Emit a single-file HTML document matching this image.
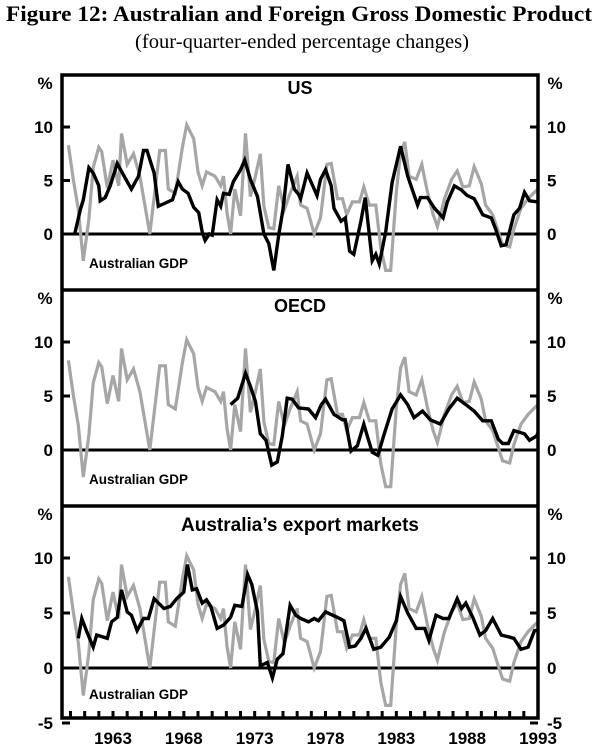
<!DOCTYPE html>
<html><head><meta charset="utf-8"><style>
html,body{margin:0;padding:0;background:#fff;}
svg{display:block;}
</style></head><body>
<svg id="chart" width="600" height="747" xmlns="http://www.w3.org/2000/svg">
<text x="299" y="21" text-anchor="middle" font-family="Liberation Serif, serif" font-weight="bold" font-size="22" textLength="586" lengthAdjust="spacingAndGlyphs">Figure 12: Australian and Foreign Gross Domestic Product</text>
<text x="302" y="48" text-anchor="middle" font-family="Liberation Serif, serif" font-size="20" textLength="334" lengthAdjust="spacingAndGlyphs">(four-quarter-ended percentage changes)</text>
<g id="plots"></g>
</svg>
<script>
const ausYears=[1959.85,1960.2,1960.55,1960.9,1961.3,1961.6,1962.0,1962.2,1962.6,1963.0,1963.4,1963.6,1964.0,1964.45,1964.9,1965.3,1965.6,1966.0,1966.3,1966.7,1966.9,1967.4,1967.9,1968.2,1968.7,1969.0,1969.3,1969.6,1970.2,1970.6,1970.8,1971.05,1971.3,1971.6,1972.0,1972.35,1972.7,1973.05,1973.4,1973.65,1974.0,1974.35,1974.7,1975.1,1975.5,1976.0,1976.24,1976.7,1977.2,1977.65,1978.1,1978.4,1978.85,1979.2,1979.5,1979.9,1980.4,1980.7,1981.1,1981.55,1981.9,1982.25,1982.6,1983.0,1983.3,1983.6,1983.9,1984.4,1984.8,1985.2,1985.6,1985.9,1986.4,1986.9,1987.3,1987.7,1988.15,1988.5,1989.0,1989.3,1989.8,1990.2,1990.5,1991.0,1991.3,1991.8,1992.3,1992.75,1993.0];
const ausValues=[8.3,5.1,2.3,-2.5,1.4,6.2,8.1,7.7,4.3,6.9,4.5,9.4,6.5,7.5,5.4,2.3,0,4.5,7.8,7.8,4.2,3.8,8.1,10.2,8.9,5.8,4.5,5.8,5.4,4.5,5.4,2.0,0,4.2,1.7,9.4,3.5,5.4,7.5,2.6,0.6,0.5,4.5,2.3,3.8,5.4,2.7,2.4,0,1.5,6.5,6.6,3.3,3.3,1.8,3.0,3.0,4.4,2.7,2.7,-1.3,-3.4,-3.4,3.9,7.6,8.6,5.4,5.1,6.5,3.9,1.8,0.7,3.3,5.1,5.9,4.4,4.5,6.3,4.7,2.7,1.8,0.2,-1.0,-1.2,0.5,2.4,3.3,3.9,4.2];
const usYears=[1960.3,1960.7,1960.9,1961.3,1961.6,1962.0,1962.1,1962.45,1962.8,1963.3,1963.75,1964.3,1964.8,1965.15,1965.4,1965.9,1966.2,1966.7,1967.2,1967.6,1967.9,1968.3,1968.7,1969.05,1969.3,1969.5,1969.8,1970.0,1970.35,1970.6,1970.8,1971.2,1971.5,1972.0,1972.3,1972.7,1973.2,1973.65,1974.0,1974.35,1974.7,1975.0,1975.35,1975.8,1976.1,1976.24,1976.7,1977.4,1977.65,1978.0,1978.4,1978.6,1979.1,1979.4,1979.7,1980.0,1980.5,1980.8,1981.3,1981.55,1981.8,1982.25,1982.7,1983.3,1983.8,1984.5,1984.7,1985.2,1985.7,1986.3,1986.6,1987.1,1987.6,1988.0,1988.5,1989.1,1989.7,1990.0,1990.4,1990.75,1991.3,1991.7,1992.05,1992.4,1993.0];
const usValues=[0,2.3,3.2,6.2,5.7,4.5,3.1,3.4,4.5,6.6,5.5,4.2,5.4,7.8,7.8,5.7,2.6,2.9,3.2,4.9,4.2,3.8,2.5,2.0,0.2,-0.6,0,-0.1,3.2,2.6,3.8,3.7,4.9,6.0,6.9,5.1,3.5,0,-0.9,-3.4,-0.1,2.3,6.5,4.2,3.7,3.3,5.7,3.6,5.1,6.0,4.5,2.4,1.2,1.5,-1.6,-1.9,1.2,3.4,-2.5,-1.9,-2.8,0.2,4.8,8.2,5.4,2.7,3.4,3.4,2.4,1.5,3.0,4.5,4.1,3.6,3.3,1.8,1.5,0.5,-1.1,-1.0,1.8,2.4,3.9,3.1,3.0];
const oecdYears=[1971.3,1971.8,1972.35,1972.7,1973.05,1973.4,1973.8,1974.2,1974.6,1974.95,1975.3,1975.65,1976.1,1976.8,1977.3,1977.7,1978.0,1978.6,1979.2,1979.4,1979.8,1980.25,1980.7,1980.95,1981.3,1981.7,1982.1,1982.7,1983.3,1983.8,1984.25,1984.85,1985.4,1986.1,1986.7,1987.3,1988.0,1988.5,1989.1,1989.7,1990.2,1990.5,1990.9,1991.3,1992.05,1992.4,1992.9,1993.0];
const oecdValues=[4.2,4.8,7.1,5.9,4.5,1.5,0.9,-1.4,-1.1,1.3,4.8,4.7,3.9,3.8,3.0,4.2,4.7,3.3,2.8,2.8,-0.1,0.4,2.4,1.3,-0.2,-0.5,1.3,3.8,5.1,4.2,3.0,3.6,2.8,2.4,3.8,4.8,4.1,3.6,2.7,2.7,1.0,0.6,0.6,1.8,1.5,0.9,1.3,1.6];
const expYears=[1960.55,1960.8,1961.15,1961.6,1961.85,1962.6,1962.9,1963.3,1963.6,1964.0,1964.3,1964.7,1965.15,1965.5,1965.9,1966.6,1967.05,1967.5,1968.0,1968.25,1968.6,1968.9,1969.3,1969.6,1969.9,1970.35,1970.8,1971.3,1971.6,1972.1,1972.5,1972.8,1973.2,1973.4,1973.9,1974.25,1974.6,1975.0,1975.5,1975.9,1976.25,1976.8,1977.2,1977.5,1978.0,1978.5,1978.85,1979.3,1979.7,1980.1,1980.5,1980.85,1981.4,1981.9,1982.5,1983.0,1983.3,1983.8,1984.4,1985.0,1985.3,1985.8,1986.3,1986.7,1987.3,1987.6,1987.9,1988.4,1988.9,1989.3,1989.8,1990.4,1991.0,1991.3,1991.8,1992.3,1992.75,1993.0];
const expValues=[2.7,4.5,3.3,1.9,3.0,2.7,4.2,4.6,7.1,5.1,4.8,3.4,4.5,4.5,6.3,5.4,5.6,6.3,6.9,9.4,7.1,7.2,5.9,6.2,5.6,3.6,3.9,4.6,5.7,5.6,8.5,7.6,5.1,0.2,0.5,-0.9,0.8,1.3,5.7,4.8,4.5,4.2,4.5,4.3,5.1,4.8,4.6,4.3,1.9,2.0,2.7,3.6,1.7,1.9,2.8,4.3,6.5,5.0,3.6,3.6,2.5,4.8,4.5,4.5,6.3,5.4,5.9,4.6,3.0,3.4,4.5,3.0,2.8,2.7,1.7,1.9,3.4,3.4];
const yTicks=[10,5,0];
const yearLabels=[1963,1968,1973,1978,1983,1988,1993];

const NS="http://www.w3.org/2000/svg";
const g=document.getElementById('plots');
const X0=62,X1=538,YR0=1959.4,YR1=1993;
function xs(yr){return X0+(yr-YR0)*(X1-X0)/(YR1-YR0);}
function mk(tag,attrs){const e=document.createElementNS(NS,tag);for(const k in attrs)e.setAttribute(k,attrs[k]);g.appendChild(e);return e;}
const panels=[
 {top:75,bot:290,zero:234,scale:10.7,title:'US',ty:94,tfs:18,series:[usYears,usValues],name:'us',lab:268},
 {top:290,bot:506,zero:450,scale:10.8,title:'OECD',ty:312,tfs:18,series:[oecdYears,oecdValues],name:'oecd',lab:484},
 {top:506,bot:718,zero:668,scale:11,title:'Australia\u2019s export markets',ty:531,tfs:19,series:[expYears,expValues],name:'export-markets',lab:699}
];
const font='Liberation Sans, sans-serif';
panels.forEach((p,i)=>{
  const ys=v=>p.zero-v*p.scale;
  let t;
  t=mk('line',{x1:X0,x2:X1,y1:ys(0),y2:ys(0),stroke:'#000','stroke-width':3});
  
  
  const pa=ausYears.map((y,k)=>xs(y).toFixed(1)+','+ys(ausValues[k]).toFixed(1)).join(' ');
  t=mk('polyline',{points:pa,fill:'none',stroke:'#a6a6a6','stroke-width':3.2,'stroke-linejoin':'miter'});
  
  
  const [sy,sv]=p.series;
  const pb=sy.map((y,k)=>xs(y).toFixed(1)+','+ys(sv[k]).toFixed(1)).join(' ');
  t=mk('polyline',{points:pb,fill:'none',stroke:'#000','stroke-width':3.4,'stroke-linejoin':'miter'});
  
  
  const ticks=i==2?yTicks.concat([-5]):yTicks;
  ticks.forEach(v=>{
    const y=ys(v);
    if(v!==0){
      t=mk('line',{x1:X0,x2:X0+8,y1:y,y2:y,stroke:'#000','stroke-width':3});
      
      
      t=mk('line',{x1:X1-8,x2:X1,y1:y,y2:y,stroke:'#000','stroke-width':3});
      
      
    }
    t=mk('text',{x:X0-9,y:y+6,'text-anchor':'end','font-family':font,'font-size':17,'font-weight':'bold'});
    t.textContent=v;
    
    
    t=mk('text',{x:X1+9,y:y+6,'text-anchor':'start','font-family':font,'font-size':17,'font-weight':'bold'});
    t.textContent=v;
    
    
  });
  t=mk('text',{x:45,y:p.top+14,'text-anchor':'middle','font-family':font,'font-size':17,'font-weight':'bold'});
  t.textContent='%';
  
  
  t=mk('text',{x:555,y:p.top+14,'text-anchor':'middle','font-family':font,'font-size':17,'font-weight':'bold'});
  t.textContent='%';
  
  
  t=mk('text',{x:300,y:p.ty,'text-anchor':'middle','font-family':font,'font-weight':'bold','font-size':p.tfs});
  t.textContent=p.title;
  
  
  t=mk('text',{x:89,y:p.lab,'font-family':font,'font-size':13.5,'font-weight':'bold'});
  t.textContent='Australian GDP';
  
  
});
let f=mk('rect',{x:X0,y:75,width:X1-X0,height:718-75,fill:'none',stroke:'#000','stroke-width':3.5});


[290,506].forEach(y=>{
  f=mk('line',{x1:X0,x2:X1,y1:y,y2:y,stroke:'#000','stroke-width':3.5});
  
  
});
for(let yr=1960;yr<=1992;yr++){
  f=mk('line',{x1:xs(yr),x2:xs(yr),y1:718,y2:711,stroke:'#000','stroke-width':3});
  
  
}
yearLabels.forEach(yr=>{
  f=mk('text',{x:xs(yr),y:744,'text-anchor':'middle','font-family':font,'font-size':17,'font-weight':'bold'});
  f.textContent=yr;
  
  
});
</script>
</body></html>
